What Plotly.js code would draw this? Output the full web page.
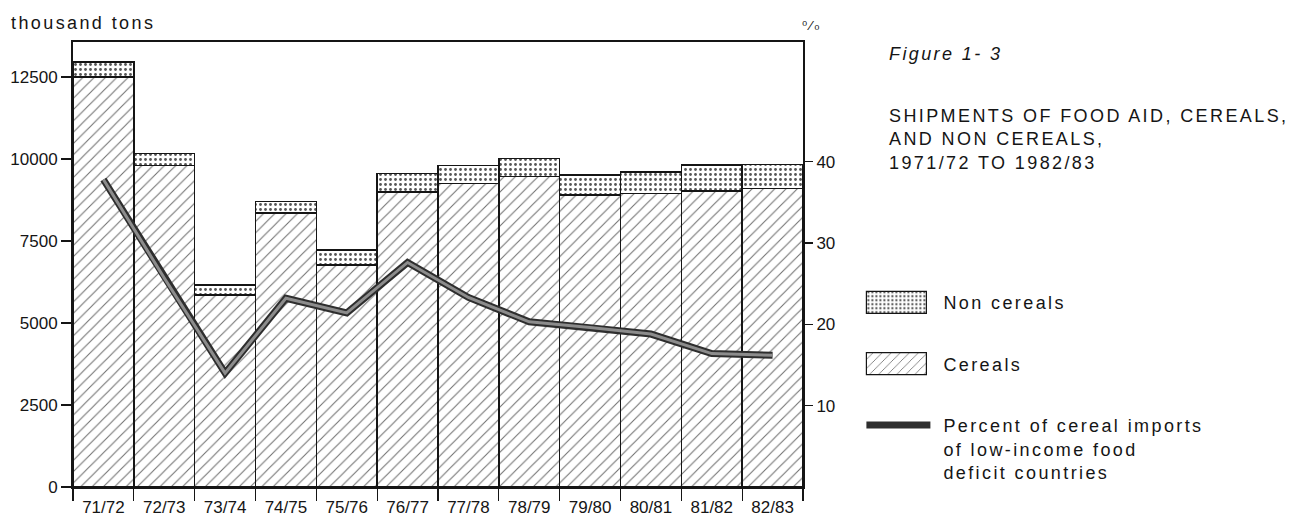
<!DOCTYPE html>
<html><head><meta charset="utf-8">
<script src="https://cdn.plot.ly/plotly-3.0.1.min.js"></script>
<style>
html,body{margin:0;padding:0;background:#fff;}
#chart{width:1305px;height:516px;}
.annotation-text{letter-spacing:2.4px;}
.legendtext{letter-spacing:2.4px;}
</style></head><body><div id="chart"></div>
<script>
const seasons = ['71/72','72/73','73/74','74/75','75/76','76/77','77/78','78/79','79/80','80/81','81/82','82/83'];
const cereals = [12500, 9800, 5850, 8360, 6770, 9000, 9260, 9460, 8900, 8950, 9030, 9100];
const nonCereals = [450, 370, 310, 340, 460, 560, 540, 560, 610, 660, 790, 740];
const percentShare = [37.8, 25.7, 14.0, 23.2, 21.4, 27.6, 23.3, 20.3, 19.6, 18.8, 16.4, 16.2];
const leftTicks = [0, 2500, 5000, 7500, 10000, 12500];
const rightTicks = [10, 20, 30, 40];

const F = 'Liberation Sans, Arial, sans-serif';
const ink = '#151515';

const traces = [
  {
    type: 'bar', name: 'Cereals', x: seasons, y: cereals, legendrank: 2, legendgroup: 'g2',
    marker: { color: 'white', line: { color: ink, width: 1.5 },
      pattern: { shape: '/', fgcolor: '#707070', bgcolor: 'white', size: 8, solidity: 0.13 } },
    hoverinfo: 'x+y'
  },
  {
    type: 'bar', name: 'Non cereals', x: seasons, y: nonCereals, legendrank: 1, legendgroup: 'g1',
    marker: { color: 'white', line: { color: ink, width: 1.5 },
      pattern: { shape: '.', fgcolor: '#555', bgcolor: 'white', size: 5, solidity: 0.25 } },
    hoverinfo: 'x+y'
  },
  {
    type: 'scatter', mode: 'lines', name: 'Percent of cereal imports<br>of low-income food<br>deficit countries',
    x: seasons, y: percentShare, yaxis: 'y2', legendrank: 3, legendgroup: 'g3',
    line: { color: '#2e2e2e', width: 7 }
  },
  {
    type: 'scatter', mode: 'lines', showlegend: false, hoverinfo: 'skip', legendgroup: 'g3',
    x: seasons, y: percentShare, yaxis: 'y2',
    line: { color: '#8c8c8c', width: 3 }
  }
];

const layout = {
  width: 1305, height: 516,
  margin: { l: 73, r: 502, t: 42, b: 29 },
  paper_bgcolor: 'white', plot_bgcolor: 'white',
  barmode: 'stack', bargap: 0,
  font: { family: F, size: 17, color: ink },
  showlegend: true,
  legend: {
    x: 1.08, xanchor: 'left', y: 0.456, yanchor: 'top',
    traceorder: 'grouped', tracegroupgap: 35, itemwidth: 64, valign: 'top',
    font: { family: F, size: 18, color: ink }, bgcolor: 'rgba(0,0,0,0)'
  },
  xaxis: {
    type: 'category', showgrid: false, zeroline: false,
    showline: true, linecolor: ink, linewidth: 2, mirror: true,
    ticks: 'outside', tickson: 'boundaries', ticklen: 12, tickwidth: 1.2, tickcolor: ink,
    ticklabelstandoff: 4,
    tickfont: { family: F, size: 17, color: ink }
  },
  yaxis: {
    range: [0, 13567], tickvals: leftTicks, ticktext: leftTicks.map(String),
    showgrid: false, zeroline: false, showline: true, linecolor: ink, linewidth: 2,
    ticks: 'outside', ticklen: 10, tickwidth: 1.5, tickcolor: ink,
    tickfont: { family: F, size: 17, color: ink }
  },
  yaxis2: {
    overlaying: 'y', side: 'right', range: [0, 54.7], tickvals: rightTicks,
    showgrid: false, zeroline: false, showline: true, linecolor: ink, linewidth: 2,
    ticks: 'outside', ticklen: 8, tickwidth: 1.5, tickcolor: ink,
    tickfont: { family: F, size: 17, color: ink }
  },
  annotations: [
    { xref: 'paper', yref: 'paper', x: -0.087, y: 1.043, xanchor: 'left', yanchor: 'middle',
      text: 'thousand tons', showarrow: false, font: { family: F, size: 18, color: ink } },
    { xref: 'paper', yref: 'paper', x: 1.012, y: 1.038, xanchor: 'center', yanchor: 'middle',
      text: '⁰⁄₀', showarrow: false, font: { family: 'DejaVu Sans', size: 13, color: ink } },
    { xref: 'paper', yref: 'paper', x: 1.115, y: 0.973, xanchor: 'left', yanchor: 'middle',
      text: '<i>Figure 1- 3</i>', showarrow: false, font: { family: F, size: 18, color: ink } },
    { xref: 'paper', yref: 'paper', x: 1.115, y: 0.782, xanchor: 'left', yanchor: 'middle', align: 'left',
      text: 'SHIPMENTS OF FOOD AID, CEREALS,<br>AND NON CEREALS,<br>1971/72 TO 1982/83',
      showarrow: false, font: { family: F, size: 18, color: ink } }
  ]
};

Plotly.newPlot('chart', traces, layout, { displayModeBar: false, staticPlot: true }).then(function (gd) {
  // widen the legend swatches of the bar series into long boxes like the original key
  const paths = Array.from(gd.querySelectorAll('.legend .legendpoints path'));
  let lineLen = 60;
  paths.forEach(function (p) {
    const d = p.getAttribute('d') || '';
    const m = d.match(/^M5,0h([\d.]+)/);
    if (m) lineLen = parseFloat(m[1]);
  });
  paths.forEach(function (p) {
    const d = p.getAttribute('d') || '';
    if (/^M6,6H-6V-6H6Z/.test(d)) {
      const tr = p.getAttribute('transform') || '';
      const t = tr.match(/translate\(([-\d.]+)[, ]+([-\d.]+)\)/);
      const cx = t ? parseFloat(t[1]) : 20;
      const half = (lineLen) / 2;
      const c = 5 + half - cx;
      p.setAttribute('d', 'M' + (c + half) + ',11H' + (c - half) + 'V-11H' + (c + half) + 'Z');
      p.style.strokeWidth = '1.2px';
      p.style.stroke = ink;
    }
  });
  // a little more room between key symbols and their labels
  gd.querySelectorAll('.legend text.legendtext').forEach(function (t) {
    t.setAttribute('transform', 'translate(8,0)');
  });
});
</script></body></html>
